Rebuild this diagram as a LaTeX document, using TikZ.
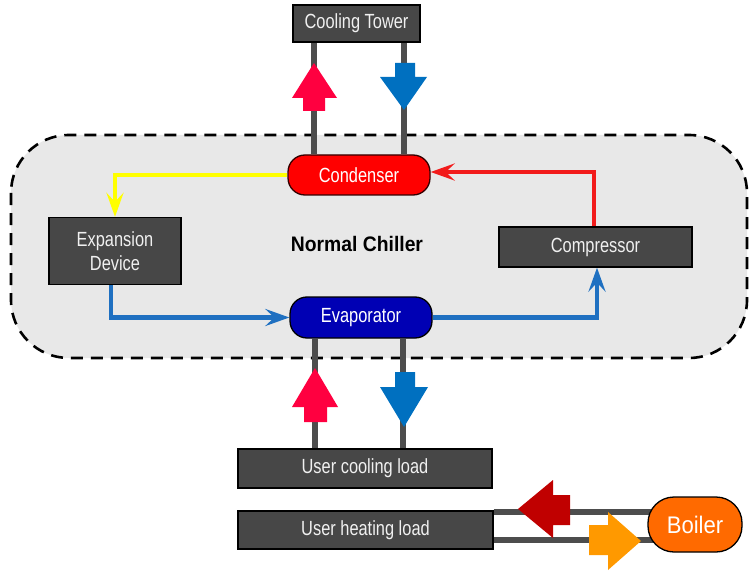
\documentclass[tikz,border=0pt]{standalone}
\usepackage{fontspec}
\setmainfont[FakeStretch=0.8]{Liberation Sans}
\newfontfamily\widefont[FakeStretch=0.92]{Liberation Sans}
\usetikzlibrary{arrows.meta}
\pgfdeclarelayer{bg}
\pgfdeclarelayer{mid}
\pgfsetlayers{bg,mid,main}
\definecolor{boxgray}{HTML}{474747}
\definecolor{pipegray}{HTML}{4D4D4D}
\definecolor{regiongray}{HTML}{E8E8E8}
\definecolor{condred}{HTML}{FF0000}
\definecolor{evapblue}{HTML}{0000B4}
\definecolor{boilorange}{HTML}{FF6A00}
\definecolor{linblue}{HTML}{1F70C1}
\definecolor{linyellow}{HTML}{FFFF00}
\definecolor{linred}{HTML}{F21B1B}
\definecolor{hotarrow}{HTML}{FF0040}
\definecolor{coldarrow}{HTML}{0070C0}
\definecolor{darkred}{HTML}{C00000}
\definecolor{orangearrow}{HTML}{FF9900}
\tikzset{
  graybox/.style={draw=black, line width=1.3pt, fill=boxgray, text=white!94!black,
    font=\fontsize{20.5}{24}\selectfont, inner sep=0pt, align=center},
  pill/.style={draw=black!80!red, line width=1.3pt, rounded corners=17pt, text=white,
    font=\fontsize{20.5}{24}\selectfont, inner sep=0pt},
  pipe/.style={draw=pipegray, line width=6pt},
  refline/.style={line width=4.5pt, -{Stealth[length=24pt,width=17pt,inset=9pt]}},
  blockarrow/.style={draw=none}
}
\begin{document}
\begin{tikzpicture}[x=1pt,y=-1pt]
\useasboundingbox (0,0) rectangle (749,572);
% nodes
\node[graybox, minimum width=127pt, minimum height=37pt] (ct) at (356.5,23.5) {Cooling Tower};
\node[pill, fill=condred, minimum width=142pt, minimum height=40pt] (cond) at (359,175) {Condenser};
\node[pill, fill=evapblue, draw=black, minimum width=142pt, minimum height=41pt] (evap) at (361,317.5) {Evaporator};
\node[graybox, minimum width=132pt, minimum height=67pt] (exp) at (115,251) {Expansion\\Device};
\node[graybox, minimum width=193pt, minimum height=40pt] (comp) at (595.5,247) {Compressor};
\node[graybox, minimum width=254pt, minimum height=39pt] (ucl) at (365,468.5) {User cooling load};
\node[graybox, minimum width=255pt, minimum height=38pt] (uhl) at (365.5,530) {User heating load};
\node[pill, fill=boilorange, draw=black, rounded corners=26pt, minimum width=94pt, minimum height=55pt,
  font=\widefont\fontsize{24}{28}\selectfont] (boiler) at (695,524.5) {Boiler};
\node[font=\widefont\bfseries\fontsize{21}{25}\selectfont, text=black] (title) at (357,244) {Normal Chiller};
% region
\begin{pgfonlayer}{bg}
\draw[dashed, dash pattern=on 12pt off 8pt, line width=2.6pt, fill=regiongray, rounded corners=58pt]
  (11,135) rectangle (747,358);
\end{pgfonlayer}
% pipes and refrigerant lines
\coordinate (xa) at (314,0);
\coordinate (xb) at (404,0);
\coordinate (xc) at (315,0);
\coordinate (xd) at (403,0);
\coordinate (ya) at (0,512);
\coordinate (yb) at (0,540);
\begin{pgfonlayer}{mid}
\draw[pipe] (ct.south -| xa) -- (cond.north -| xa);
\draw[pipe] (ct.south -| xb) -- (cond.north -| xb);
\draw[pipe] (evap.south -| xc) -- (ucl.north -| xc);
\draw[pipe] (evap.south -| xd) -- (ucl.north -| xd);
\draw[pipe] (uhl.east |- ya) -- (boiler.center |- ya);
\draw[pipe] (uhl.east |- yb) -- (boiler.center |- yb);
\draw[refline, draw=linyellow, color=linyellow] (cond.west) -| (exp.north);
\draw[refline, draw=linblue, color=linblue] ([xshift=-4pt]exp.south) |- (evap.west);
\draw[refline, draw=linblue, color=linblue] (evap.east) -| ([xshift=1.5pt]comp.south);
\draw[refline, draw=linred, color=linred] ([xshift=-1.5pt]comp.north) |- ([yshift=3pt]cond.east);
\end{pgfonlayer}
% block arrows
\fill[hotarrow] (314,63) -- (337,98) -- (325,98) -- (325,111) -- (303,111) -- (303,98) -- (292,98) -- cycle;
\fill[coldarrow] (395,63) -- (415,63) -- (415,77) -- (427,77) -- (404,110) -- (380,77) -- (395,77) -- cycle;
\fill[hotarrow] (315,368) -- (338,407) -- (327,407) -- (327,422) -- (304,422) -- (304,407) -- (292,407) -- cycle;
\fill[coldarrow] (395,372) -- (415,372) -- (415,387) -- (428,387) -- (404,427) -- (380,387) -- (395,387) -- cycle;
\fill[darkred] (518,509) -- (553,480) -- (553,495) -- (570,495) -- (570,525) -- (553,525) -- (553,538) -- cycle;
\fill[orangearrow] (589,525) -- (608,525) -- (608,512) -- (641,541) -- (608,570) -- (608,555) -- (589,555) -- cycle;
\end{tikzpicture}
\end{document}
